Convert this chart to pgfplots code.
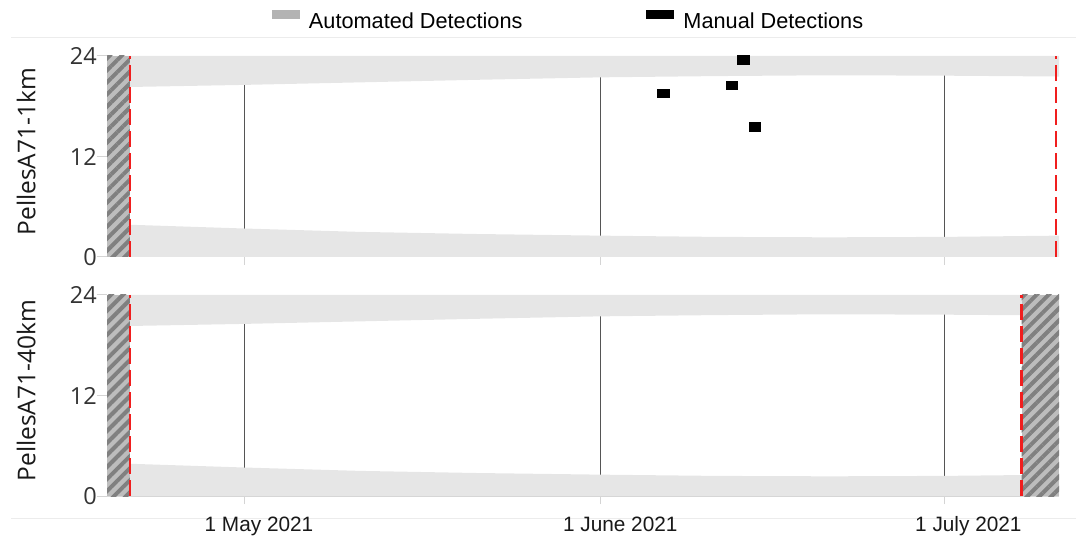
\documentclass[border=0pt]{standalone}
\usepackage{fontspec}
\setmainfont{Liberation Sans}
\newfontfamily\osans{Open Sans}
\usepackage{pgfplots}
\usepackage{pgfplotstable}
\pgfplotsset{compat=1.18}
\usetikzlibrary{patterns.meta}

\definecolor{band}{HTML}{E6E6E6}
\definecolor{hatchbg}{HTML}{BDBDBD}
\definecolor{hatchfg}{HTML}{808080}
\definecolor{gridc}{HTML}{555555}
\definecolor{axisc}{HTML}{D4D4D4}
\definecolor{redd}{HTML}{F01E1E}
\definecolor{legg}{HTML}{B3B3B3}
\definecolor{sepc}{HTML}{ECECEC}

\pgfplotstableread{
x y
-12 24
-12 20.25
-10 20.3
0 20.55
10 20.85
20 21.15
31 21.45
41 21.6
51 21.7
61 21.65
71 21.55
71 24
}\upperband

\pgfplotstableread{
x y
-12 0
-12 3.95
-10 3.85
0 3.4
10 3.0
20 2.75
31 2.55
41 2.4
51 2.35
61 2.4
71 2.55
71 0
}\lowerband

\pgfplotsset{
 panel/.style={
  scale only axis, width=952pt, height=201pt, anchor=south west,
  xmin=-12, xmax=71, ymin=0, ymax=24,
  axis x line*=bottom, axis y line*=left,
  x axis line style={draw=axisc, line width=1pt, -},
  y axis line style={draw=none, -},
  ytick={0,12,24},
  tick align=outside,
  ytick style={draw=axisc, line width=1pt},
  major tick length=10pt,
  /pgf/number format/assume math mode=true,
  yticklabel style={font=\osans\fontsize{23.5}{28}\selectfont, text=black!80, inner sep=0pt},
  xtick={1.25,32.75,63.1},
  xtick style={draw=none},
  xticklabel style={font=\fontsize{20.8}{25}\selectfont, text=black!90, yshift=-7pt},
  extra x ticks={0,31,61},
  extra x tick labels={},
  extra x tick style={grid=major, major grid style={draw=gridc, line width=1.1pt}, xtick style={draw=axisc, line width=1pt}, major tick length=8pt},
  every axis y label/.style={at={(axis description cs:-0.0949,0.524)}, rotate=90, anchor=north, inner sep=0pt, font=\osans\fontsize{24.5}{29}\selectfont, text=black!90},
  clip=false,
 }
}

\begin{document}
\begin{tikzpicture}
\useasboundingbox (0,0) rectangle (1076pt,538pt);
\draw[sepc, line width=1pt] (11pt,500pt) -- (1076pt,500pt);
\draw[sepc, line width=1pt] (11pt,19pt) -- (1076pt,19pt);

\begin{axis}[panel, at={(107pt,281pt)}, xticklabels={},
  ylabel={PellesA71-1km},
  legend columns=2,
  legend image code/.code={\fill[#1, draw=none] (0pt,3pt) rectangle (28pt,12pt);},
  legend style={at={(axis description cs:0.1733,1.179)}, anchor=west, draw=none, fill=none, inner sep=0pt, outer sep=0pt,
    nodes={inner sep=0pt, font=\fontsize{21.7}{26}\selectfont},
    /tikz/every odd column/.append style={column sep=9pt},
    /tikz/every even column/.append style={column sep=124pt}},
  legend cell align=left]
\addplot[fill=band, draw=none, forget plot] table {\upperband} -- cycle;
\addplot[fill=band, draw=none, forget plot] table {\lowerband} -- cycle;
\addplot[fill=hatchbg, draw=none, forget plot, postaction={pattern color=hatchfg, pattern={Lines[angle=45,distance=8.5pt,line width=4pt]}}] coordinates {(-12,0)(-10,0)(-10,24)(-12,24)} -- cycle;
\addplot[redd, line width=2.5pt, dash pattern=on 16pt off 6pt, forget plot] coordinates {(-10,0)(-10,24)};
\addplot[redd, line width=2.5pt, dash pattern=on 16pt off 6pt, forget plot] coordinates {(70.75,0)(70.75,24)};
% manual detections (day, hour cells)
\addplot[fill=black, draw=black, line width=1pt, forget plot] coordinates {(36,19)(37,19)(37,20)(36,20)} -- cycle;
\addplot[fill=black, draw=black, line width=1pt, forget plot] coordinates {(42,20)(43,20)(43,21)(42,21)} -- cycle;
\addplot[fill=black, draw=black, line width=1pt, forget plot] coordinates {(43,23)(44,23)(44,24)(43,24)} -- cycle;
\addplot[fill=black, draw=black, line width=1pt, forget plot] coordinates {(44,15)(45,15)(45,16)(44,16)} -- cycle;
\addlegendimage{fill=legg}
\addlegendentry{Automated Detections}
\addlegendimage{fill=black}
\addlegendentry{Manual Detections}
\end{axis}

\begin{axis}[panel, at={(107pt,42pt)},
  xticklabels={1 May 2021, 1 June 2021, 1 July 2021},
  ylabel={PellesA71-40km}]
\addplot[fill=band, draw=none] table {\upperband} -- cycle;
\addplot[fill=band, draw=none] table {\lowerband} -- cycle;
\addplot[fill=hatchbg, draw=none, postaction={pattern color=hatchfg, pattern={Lines[angle=45,distance=8.5pt,line width=4pt]}}] coordinates {(-12,0)(-10,0)(-10,24)(-12,24)} -- cycle;
\addplot[fill=hatchbg, draw=none, postaction={pattern color=hatchfg, pattern={Lines[angle=45,distance=8.5pt,line width=4pt]}}] coordinates {(67.75,0)(71,0)(71,24)(67.75,24)} -- cycle;
\addplot[redd, line width=2.5pt, dash pattern=on 16pt off 6pt] coordinates {(-10,0)(-10,24)};
\addplot[redd, line width=2.5pt, dash pattern=on 16pt off 6pt] coordinates {(67.75,0)(67.75,24)};
\end{axis}
\end{tikzpicture}
\end{document}
